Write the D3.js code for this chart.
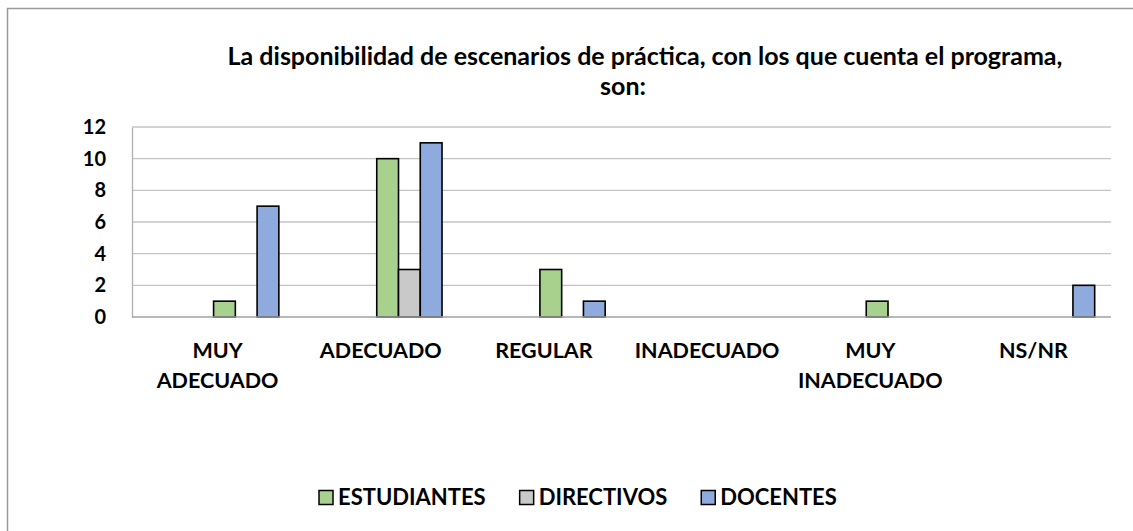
<!DOCTYPE html>
<html>
<head>
<meta charset="utf-8">
<script src="https://cdn.jsdelivr.net/npm/d3@7"></script>
<style>
  body { margin: 0; background: #fff; }
  text { font-family: Lato, "Open Sans", sans-serif; font-weight: bold; fill: #000; }
</style>
</head>
<body>
<script>
// data
const categories = ["MUY ADECUADO", "ADECUADO", "REGULAR", "INADECUADO", "MUY INADECUADO", "NS/NR"];
const estudiantes = [1, 10, 3, 0, 1, 0];
const directivos = [0, 3, 0, 0, 0, 0];
const docentes = [7, 11, 1, 0, 0, 2];
const seriesNames = ["ESTUDIANTES", "DIRECTIVOS", "DOCENTES"];
const seriesColors = ["#a9d18e", "#c9c9c9", "#8faadc"];
const yTicks = [0, 2, 4, 6, 8, 10, 12];

const width = 1133, height = 531;
const seriesValues = [estudiantes, directivos, docentes];

const svg = d3.select("body").append("svg")
    .attr("width", width)
    .attr("height", height);

svg.append("rect").attr("width", width).attr("height", height).attr("fill", "#fff");

// chart frame
svg.append("rect")
    .attr("x", 7.5).attr("y", 8.5)
    .attr("width", 1200).attr("height", 600)
    .attr("fill", "none")
    .attr("stroke", "#9a9a9a")
    .attr("stroke-width", 1.5);

// title
const title = svg.append("text").attr("text-anchor", "middle").style("font-size", "25px");
title.append("tspan").attr("x", 645).attr("y", 65)
    .text("La disponibilidad de escenarios de práctica, con los que cuenta el programa,");
title.append("tspan").attr("x", 623).attr("y", 95).text("son:");

const x0 = d3.scaleBand().domain(categories).range([132, 1111]);
// Excel layout: 6 series slots (first three empty), gap width 150%
const slots = d3.range(6);
const slotW = x0.bandwidth() / 7.5;
const x1 = d3.scaleBand().domain(slots)
    .range([slotW * 0.75, x0.bandwidth() - slotW * 0.75]);
const y = d3.scaleLinear().domain([0, 12]).range([317, 127]);

// gridlines
svg.append("g").selectAll("line")
    .data(yTicks.filter(d => d > 0))
    .join("line")
    .attr("x1", 132).attr("x2", 1111)
    .attr("y1", d => y(d)).attr("y2", d => y(d))
    .attr("stroke", "#c4c4c4").attr("stroke-width", 1.3);

// y axis
const yAxis = svg.append("g")
    .attr("transform", "translate(132,0)")
    .call(d3.axisLeft(y).tickValues(yTicks).tickSize(0).tickPadding(26));
yAxis.select(".domain").attr("stroke", "#b0b0b0").attr("stroke-width", 1.3);
yAxis.selectAll("text").style("font-size", "20px").style("font-family", "Lato, sans-serif");

// bars
seriesValues.forEach((vals, si) => {
    svg.append("g").selectAll("rect")
        .data(vals.map((v, i) => ({cat: categories[i], v})).filter(d => d.v > 0))
        .join("rect")
        .attr("x", d => x0(d.cat) + x1(si + 3))
        .attr("y", d => y(d.v))
        .attr("width", x1.bandwidth())
        .attr("height", d => y(0) - y(d.v))
        .attr("fill", seriesColors[si])
        .attr("stroke", "#000")
        .attr("stroke-width", 1.6);
});

// x axis baseline
svg.append("line")
    .attr("x1", 132).attr("x2", 1111)
    .attr("y1", y(0)).attr("y2", y(0))
    .attr("stroke", "#a0a0a0").attr("stroke-width", 1.5);

// category labels, wrapped on space for two-word ones
const catLabels = svg.append("g").selectAll("text")
    .data(categories)
    .join("text")
    .attr("text-anchor", "middle")
    .style("font-size", "21.5px");
catLabels.each(function(d) {
    const words = d.split(" ");
    const cx = x0(d) + x0.bandwidth() / 2 + 4;
    words.forEach((w, i) => {
        d3.select(this).append("tspan")
            .attr("x", cx).attr("y", 358 + i * 30).text(w);
    });
});

// legend
const legend = svg.append("g");
let lx = 319;
seriesNames.forEach((name, i) => {
    legend.append("rect")
        .attr("x", lx).attr("y", 490.5)
        .attr("width", 14).attr("height", 14)
        .attr("fill", seriesColors[i])
        .attr("stroke", "#000").attr("stroke-width", 1.5);
    const t = legend.append("text")
        .attr("x", lx + 19).attr("y", 505)
        .style("font-size", "22px")
        .text(name);
    lx += 19 + t.node().getComputedTextLength() + 34;
});
</script>
</body>
</html>
